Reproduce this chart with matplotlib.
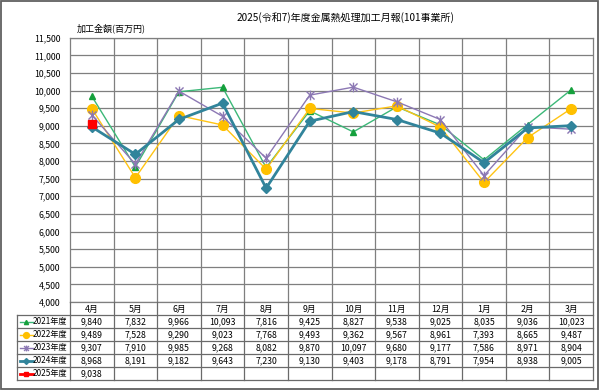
import matplotlib
matplotlib.use("Agg")
import matplotlib.pyplot as plt
from matplotlib.path import Path
from matplotlib.patches import Rectangle

plt.rcParams['font.family'] = ['Noto Sans CJK JP', 'DejaVu Sans']

months = ['4月', '5月', '6月', '7月', '8月', '9月', '10月', '11月', '12月', '1月', '2月', '3月']
years = ['2021年度', '2022年度', '2023年度', '2024年度', '2025年度']
v2021 = [9840, 7832, 9966, 10093, 7816, 9425, 8827, 9538, 9025, 8035, 9036, 10023]
v2022 = [9489, 7528, 9290, 9023, 7768, 9493, 9362, 9567, 8961, 7393, 8665, 9487]
v2023 = [9307, 7910, 9985, 9268, 8082, 9870, 10097, 9680, 9177, 7586, 8971, 8904]
v2024 = [8968, 8191, 9182, 9643, 7230, 9130, 9403, 9178, 8791, 7954, 8938, 9005]
v2025 = [9038]
series = [v2021, v2022, v2023, v2024, v2025]
yticks = list(range(4000, 11501, 500))

# Excel style star marker: x plus vertical bar
star = Path([(-1, -1), (1, 1), (-1, 1), (1, -1), (0, -1.2), (0, 1.2)],
            [Path.MOVETO, Path.LINETO, Path.MOVETO, Path.LINETO, Path.MOVETO, Path.LINETO])

styles = [
    dict(color='#3cb878', lw=1.0, marker='^', ms=5, mfc='#15a03c', mec='#15a03c'),
    dict(color='#ffc414', lw=1.0, marker='o', ms=7, mfc='#ffc000', mec='#ffc000'),
    dict(color='#8c78b4', lw=1.0, marker=star, ms=7, mfc='none', mec='#8c78b4', mew=1.0),
    dict(color='#31849b', lw=2.0, marker='D', ms=5, mfc='#31849b', mec='#31849b'),
    dict(color='#ff0000', lw=2.0, marker='s', ms=6, mfc='#ff0000', mec='#ff0000'),
]

W, H = 600, 391
fig = plt.figure(figsize=(6, 3.91), dpi=100)
fig.patch.set_facecolor('white')
fig.patches.append(Rectangle((1 / W, 2 / H), 597 / W, 388 / H, transform=fig.transFigure,
                             fill=False, edgecolor='#606060', lw=1.3))

grid_c = '#7f7f7f'
x0, x1 = 70, 593
ax = fig.add_axes([x0 / W, 1 - 302 / H, (x1 - x0) / W, (302 - 37.7) / H])
xs = [i + 0.5 for i in range(12)]
for vals, st in zip(series, styles):
    ax.plot(xs[:len(vals)], vals, zorder=3, **st)
ax.set_xlim(0, 12)
ax.set_ylim(4000, 11500)
ax.set_yticks(yticks)
ax.set_yticklabels([f'{t:,}' for t in yticks], fontsize=6.3)
ax.set_xticks([])
ax.tick_params(axis='y', length=0, pad=7)
for y in yticks:
    ax.axhline(y, color=grid_c, lw=0.9, zorder=1)
for i in range(1, 12):
    ax.axvline(i, color=grid_c, lw=0.9, zorder=1)
for s in ax.spines.values():
    s.set_color(grid_c)
    s.set_linewidth(0.9)

fig.text(345 / W, 1 - 18 / H, '2025(令和7)年度金属熱処理加工月報(101事業所)',
         ha='center', va='center', fontsize=7.2)
fig.text(77 / W, 1 - 28 / H, '加工金額(百万円)', ha='left', va='center', fontsize=6.5)

# data table under the plot
lw_col = (x0 - 17) / ((x1 - x0) / 12)
tb = fig.add_axes([17 / W, 1 - 380 / H, (x1 - 17) / W, (380 - 302) / H])
tb.set_xlim(-lw_col, 12)
tb.set_ylim(6, 0)
tb.axis('off')
line_c = '#6a6a6a'
for r in range(1, 7):
    tb.plot([-lw_col, 12], [r, r], color=line_c, lw=0.9, clip_on=False)
tb.plot([-lw_col, -lw_col], [1, 6], color=line_c, lw=0.9, clip_on=False)
for i in range(13):
    tb.plot([i, i], [0, 6], color=line_c, lw=0.9, clip_on=False)
for i, m in enumerate(months):
    tb.text(i + 0.5, 0.55, m, ha='center', va='center', fontsize=6.3)
for r, (yr, vals, st) in enumerate(zip(years, series, styles)):
    y = r + 1.5
    tb.plot([-lw_col + 0.06, -lw_col + 0.36], [y, y], color=st['color'],
            lw=st['lw'], clip_on=False)
    tb.plot([-lw_col + 0.21], [y], linestyle='none', marker=st['marker'],
            ms=st['ms'] * 0.6, mfc=st['mfc'], mec=st['mec'], clip_on=False)
    tb.text(-lw_col + 0.37, y, yr, ha='left', va='center', fontsize=5.9)
    for i, v in enumerate(vals):
        tb.text(i + 0.5, y, f'{v:,}', ha='center', va='center', fontsize=6.3)

fig.savefig('out.png', dpi=100)
